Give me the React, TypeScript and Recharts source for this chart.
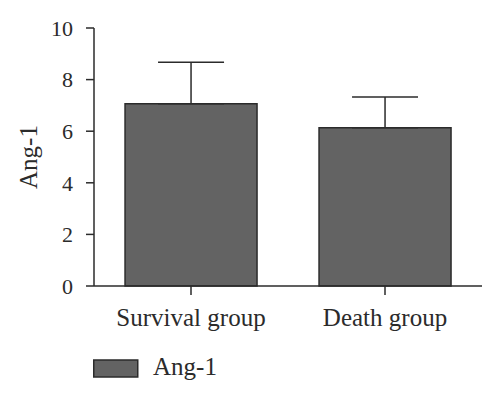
import { BarChart, Bar, XAxis, YAxis, ErrorBar, Legend } from "recharts";

const groups = ["Survival group", "Death group"];
const angMeans = [7.06, 6.13];
const angSd = [1.61, 1.2];
const yTicks = [0, 2, 4, 6, 8, 10];

const data = groups.map((g, i) => ({
  name: g,
  value: angMeans[i],
  err: [0, angSd[i]],
}));

const ink = "#2b2b2b";
const font = "'Liberation Serif', 'Times New Roman', serif";

function LegendBox({ payload }: any) {
  return (
    <svg width={220} height={34} style={{ overflow: "visible", display: "block" }}>
      {(payload || []).map((p: any) => (
        <g key={p.value}>
          <rect x={0.75} y={9} width={44} height={17} fill="#636363" stroke={ink} strokeWidth={1.5} />
          <text x={60} y={24} fontSize={25} fill={ink} fontFamily={font}>
            {p.value}
          </text>
        </g>
      ))}
    </svg>
  );
}

export default function App() {
  return (
    <div style={{ position: "absolute", left: 0, top: 0, background: "#fff" }}>
      <BarChart
        width={500}
        height={399}
        data={data}
        margin={{ top: 28, right: 18, left: 0, bottom: 29 }}
        barCategoryGap="16%"
        style={{ fontFamily: font }}
      >
        <XAxis
          dataKey="name"
          height={50}
          tickSize={9}
          tickMargin={13}
          stroke={ink}
          strokeWidth={1.5}
          tick={{ fontSize: 25, fill: ink }}
        />
        <YAxis
          width={94}
          domain={[0, 10]}
          ticks={yTicks}
          tickSize={8}
          tickMargin={13}
          stroke={ink}
          strokeWidth={1.5}
          tick={{ fontSize: 22, fill: ink }}
          label={{
            value: "Ang-1",
            angle: -90,
            position: "insideLeft",
            offset: 28,
            style: { textAnchor: "middle", fontSize: 25, fill: ink },
          }}
        />
        <Legend
          verticalAlign="bottom"
          content={<LegendBox />}
          wrapperStyle={{ top: 351, left: 93, bottom: "auto", width: "auto", height: 34 }}
        />
        <Bar
          dataKey="value"
          name="Ang-1"
          fill="#636363"
          stroke={ink}
          strokeWidth={1.5}
          isAnimationActive={false}
        >
          <ErrorBar dataKey="err" direction="y" width={33} stroke={ink} strokeWidth={1.5} />
        </Bar>
      </BarChart>
    </div>
  );
}
